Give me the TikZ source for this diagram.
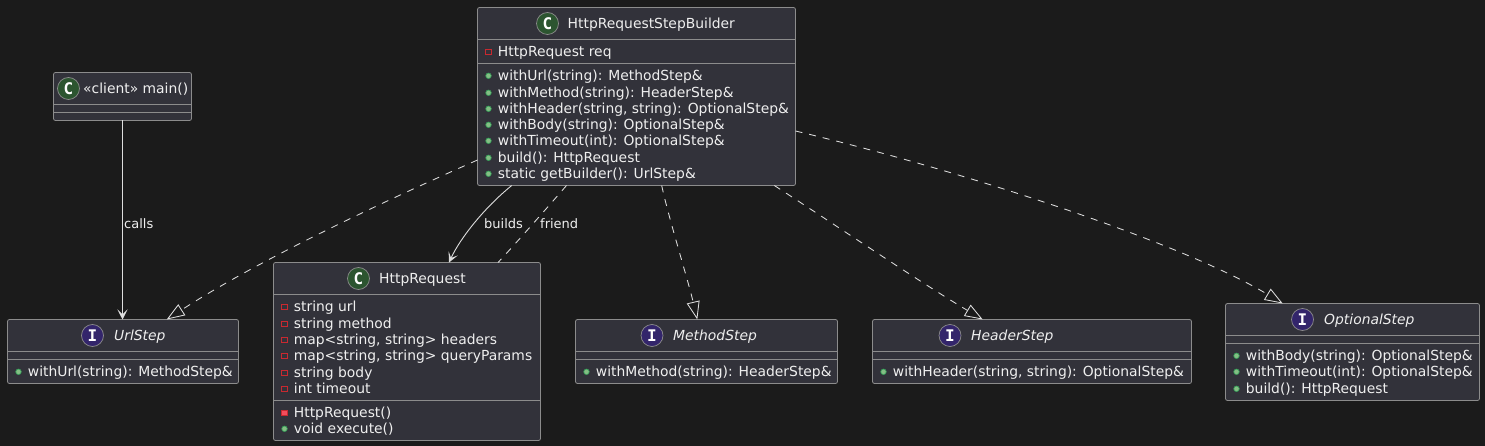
\documentclass[tikz,border=0pt]{standalone}
\usepackage{fontspec}
\setmainfont{DejaVu Sans}
\newfontfamily\glyphfont{DejaVu Sans Mono}
\usetikzlibrary{arrows.meta,calc}
\definecolor{bgc}{HTML}{1B1B1B}
\definecolor{boxc}{HTML}{32323A}
\definecolor{linec}{HTML}{8C8C8C}
\definecolor{txt}{HTML}{EFEFEF}
\definecolor{edgec}{HTML}{DEDEDE}
\definecolor{privc}{HTML}{C82930}
\definecolor{privf}{HTML}{F24D5C}
\definecolor{pubc}{HTML}{38A05A}
\definecolor{pubf}{HTML}{84BE84}
\definecolor{cc}{HTML}{2C5530}
\definecolor{ic}{HTML}{33256B}
\tikzset{
  x=1pt,y=-1pt,
  boxs/.style={draw=linec,fill=boxc,rounded corners=2pt,line width=0.8pt,inner sep=0,outer sep=0},
  titles/.style={text=txt,font=\fontsize{13.88}{14}\selectfont,inner sep=0,anchor=base west,yshift=-0.7pt},
  ititles/.style={titles,font=\fontsize{13.88}{14}\selectfont\itshape},
  mems/.style={text=txt,font=\fontsize{13.88}{14}\selectfont,inner sep=0,anchor=base west,yshift=-0.7pt},
  labs/.style={text=txt,font=\fontsize{13}{14}\selectfont,inner sep=0,anchor=base west,yshift=-0.7pt},
  circ/.style={circle,draw=linec,line width=0.7pt,minimum size=22pt,inner sep=0,text=white,font=\glyphfont\bfseries\fontsize{16}{16}\selectfont},
  cedge/.style={draw=edgec,line width=0.9pt},
  dedge/.style={draw=edgec,line width=0.85pt,dash pattern=on 7pt off 7pt},
  hollow/.style={-{Triangle[open,length=18pt,width=13pt,line width=0.85pt]}},
  opentip/.style={-{Stealth[length=10pt,width=10pt,inset=5pt]}},
}
% name x1 y1 x2 y2 div1 div2
\newcommand{\classbox}[7]{%
  \node[boxs,anchor=north west,minimum width={#4-#2},minimum height={#5-#3}] (#1) at (#2,#3) {};
  \draw[draw=linec,line width=0.8pt] (#2,#6) -- (#4,#6) (#2,#7) -- (#4,#7);
}
\newcommand{\memb}[5]{% name kind x y text
  \ifx#2p\node[draw=privc,line width=0.7pt,minimum size=5.5pt,inner sep=0] (#1i) at (#3,#4-4.2) {};\fi
  \ifx#2m\node[draw=privc,fill=privf,line width=0.7pt,minimum size=5.5pt,inner sep=0] (#1i) at (#3,#4-4.2) {};\fi
  \ifx#2o\node[circle,draw=pubc,fill=pubf,line width=0.7pt,minimum size=5.5pt,inner sep=0] (#1i) at (#3,#4-4.2) {};\fi
  \node[mems] (#1) at (#3+9.2,#4) {#5};
}
\begin{document}
\begin{tikzpicture}
\useasboundingbox[fill=bgc] (0,0) rectangle (1485,446);

\classbox{b}{477.5}{7.5}{795.5}{185.5}{39.5}{63.5}
\classbox{m}{53.5}{72.5}{191.5}{120.5}{104.5}{112.5}
\classbox{u}{7.5}{319.5}{238.5}{383.5}{351.5}{359.5}
\classbox{r}{273.5}{262.5}{540.5}{440.5}{294.5}{400.5}
\classbox{me}{575.5}{319.5}{837.5}{383.5}{351.5}{359.5}
\classbox{h}{872.5}{319.5}{1191.5}{383.5}{351.5}{359.5}
\classbox{o}{1225.5}{303.5}{1479.5}{400.5}{335.5}{343.5}

% titles
\node[circ,fill=cc] (bc) at (547.5,23.5) {C};
\node[titles] (bt) at (567.5,28) {HttpRequestStepBuilder};
\node[circ,fill=cc] (mc) at (68.5,88.5) {C};
\node[titles] (mt) at (83,93) {«client» main()};
\node[circ,fill=ic] (uc) at (92.5,335.5) {I};
\node[ititles] (ut) at (114,340) {UrlStep};
\node[circ,fill=cc] (rc) at (358.5,278.5) {C};
\node[titles] (rt) at (379,283) {HttpRequest};
\node[circ,fill=ic] (mec) at (652,335.5) {I};
\node[ititles] (met) at (673,340) {MethodStep};
\node[circ,fill=ic] (hc) at (950,335.5) {I};
\node[ititles] (ht) at (971,340) {HeaderStep};
\node[circ,fill=ic] (oc) at (1302.5,319.5) {I};
\node[ititles] (ot) at (1324,324) {OptionalStep};

% members
\memb{b1}{p}{488.5}{56}{HttpRequest req}
\memb{b2}{o}{488.5}{80}{withUrl(string): MethodStep\&}
\memb{b3}{o}{488.5}{97}{withMethod(string): HeaderStep\&}
\memb{b4}{o}{488.5}{113}{withHeader(string, string): OptionalStep\&}
\memb{b5}{o}{488.5}{129}{withBody(string): OptionalStep\&}
\memb{b6}{o}{488.5}{145}{withTimeout(int): OptionalStep\&}
\memb{b7}{o}{488.5}{162}{build(): HttpRequest}
\memb{b8}{o}{488.5}{178}{static getBuilder(): UrlStep\&}

\memb{r1}{p}{284.5}{311}{string url}
\memb{r2}{p}{284.5}{328}{string method}
\memb{r3}{p}{284.5}{344}{map<string, string> headers}
\memb{r4}{p}{284.5}{360}{map<string, string> queryParams}
\memb{r5}{p}{284.5}{377}{string body}
\memb{r6}{p}{284.5}{393}{int timeout}
\memb{r7}{m}{284.5}{417}{HttpRequest()}
\memb{r8}{o}{284.5}{433}{void execute()}

\memb{u1}{o}{18.5}{376}{withUrl(string): MethodStep\&}
\memb{me1}{o}{586.5}{376}{withMethod(string): HeaderStep\&}
\memb{h1}{o}{883.5}{376}{withHeader(string, string): OptionalStep\&}
\memb{o1}{o}{1236.5}{360}{withBody(string): OptionalStep\&}
\memb{o2}{o}{1236.5}{376}{withTimeout(int): OptionalStep\&}
\memb{o3}{o}{1236.5}{393}{build(): HttpRequest}

% connectors
\draw[cedge,opentip] (m.south) -- (m.south |- u.north);
\node[labs] (lc) at (124,228) {calls};

\draw[cedge,opentip] ([xshift=-124.8pt]b.south) .. controls +(-27.7,22.5) and +(11,-24) .. ([xshift=42pt]r.north);
\node[labs] (lb) at (484,228) {builds};
\draw[dedge] ([xshift=-70pt]b.south) .. controls +(-11.7,13.5) and +(17,-18) .. ([xshift=91pt]r.north);
\node[labs] (lf) at (540,228) {friend};

\draw[dedge,hollow] ([yshift=-63.5pt]b.west) .. controls +(-97,43) and +(93,-60) .. ([xshift=43.7pt]u.north);
\draw[dedge,hollow] ([xshift=25.2pt]b.south) .. controls +(6.3,30) and +(-9.3,-39.3) .. ([xshift=-9.2pt]me.north);
\draw[dedge,hollow] ([xshift=137.8pt]b.south) .. controls +(65.7,42.5) and +(-62.7,-37.3) .. ([xshift=-49.3pt]h.north);
\draw[dedge,hollow] ([yshift=-34.5pt]b.east) .. controls +(164.5,39) and +(-102.7,-61.7) .. ([xshift=-69.8pt]o.north);
\end{tikzpicture}
\end{document}
